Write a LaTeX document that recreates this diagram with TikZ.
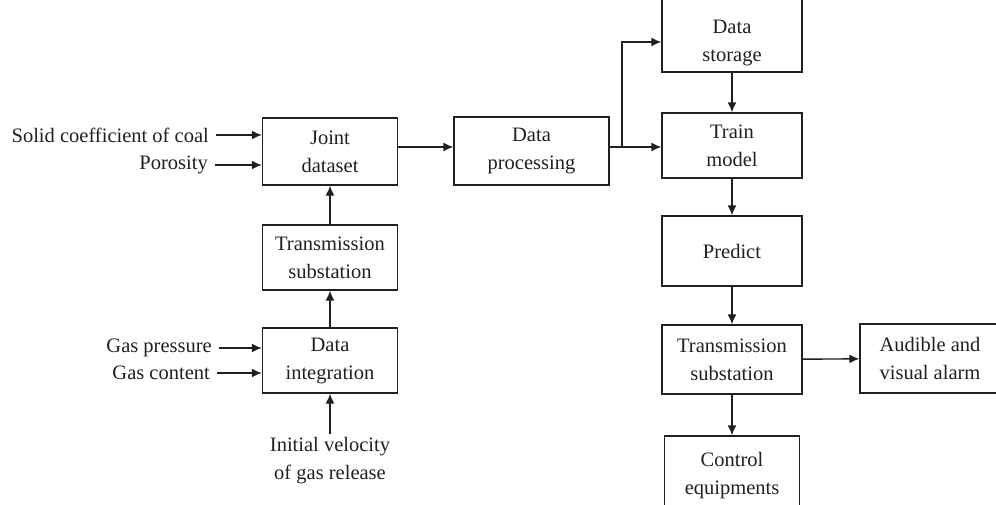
\documentclass[tikz,border=0pt]{standalone}
\usepackage{fontspec}
\setmainfont{Liberation Serif}
\usetikzlibrary{arrows.meta}
\definecolor{ink}{HTML}{231F20}
\tikzset{
    box/.style={draw=ink, line width=1.4pt, text=ink, align=center, minimum width=135pt, minimum height=67pt, inner sep=2pt},
    lbl/.style={text=ink, align=center, inner xsep=7pt, inner ysep=3pt},
    arr/.style={-{Latex[length=10pt,width=9pt]}, draw=ink, line width=1.4pt}
}
\begin{document}
\begin{tikzpicture}[x=1pt, y=-1pt, font=\fontsize{20.5}{28}\selectfont]
        \useasboundingbox (0,0) rectangle (996,504);
        % nodes
        \node(joint) [box] at (330, 151.5) {Joint\\dataset};
        \node(transl) [box, minimum height=65pt] at (330, 257.5) {Transmission\\substation};
        \node(integ) [box, minimum height=65pt] at (330, 360.5) {Data\\integration};
        \node(proc) [box, minimum width=155pt, minimum height=68pt] at (531.5, 151) {Data\\processing};
        \node(store) [box, minimum width=140pt, minimum height=76pt, text height=60pt] at (732, 34) {Data\\storage};
        \node(train) [box, minimum width=140pt, minimum height=65pt] at (732, 145.5) {Train\\model};
        \node(pred) [box, minimum width=140pt, minimum height=70pt] at (732, 251) {Predict};
        \node(transr) [box, minimum width=140pt, minimum height=69pt] at (732, 359.5) {Transmission\\substation};
        \node(alarm) [box, minimum width=140pt, minimum height=69pt] at (930, 358.5) {Audible and\\visual alarm};
        \node(ctrl) [box, minimum width=135pt, minimum height=80pt] at (732, 476) {Control\\equipments};

        \node(solid) [lbl, anchor=east] at (216, 135) {Solid coefficient of coal};
        \node(poro) [lbl, anchor=east] at (215, 165) {Porosity};
        \node(press) [lbl, anchor=east] at (219, 348) {Gas pressure};
        \node(cont) [lbl, anchor=east] at (217, 373) {Gas content};
        \node(velo) [lbl] at (330, 461) {Initial velocity\\of gas release};

        \coordinate(br) at (622, 147);

        %edges
        \draw[arr] (solid.east) -- (joint.west |- solid.east);
        \draw[arr] (poro.east) -- (joint.west |- poro.east);
        \draw[arr] (press.east) -- (integ.west |- press.east);
        \draw[arr] (cont.east) -- (integ.west |- cont.east);
        \draw[arr] (velo.north) -- (integ.south);
        \draw[arr] (integ) -- (transl);
        \draw[arr] (transl) -- (joint);
        \draw[arr] (joint.east |- br) -- (proc.west |- br);
        \draw[arr] (proc.east |- br) -- (train.west |- br);
        \draw[arr] (br) |- ([yshift=-8pt]store.west);
        \draw[arr] (store) -- (train);
        \draw[arr] (train) -- (pred);
        \draw[arr] (pred) -- (transr);
        \draw[arr] (transr) -- (alarm);
        \draw[arr] (transr) -- (ctrl);

    \end{tikzpicture}
\end{document}
